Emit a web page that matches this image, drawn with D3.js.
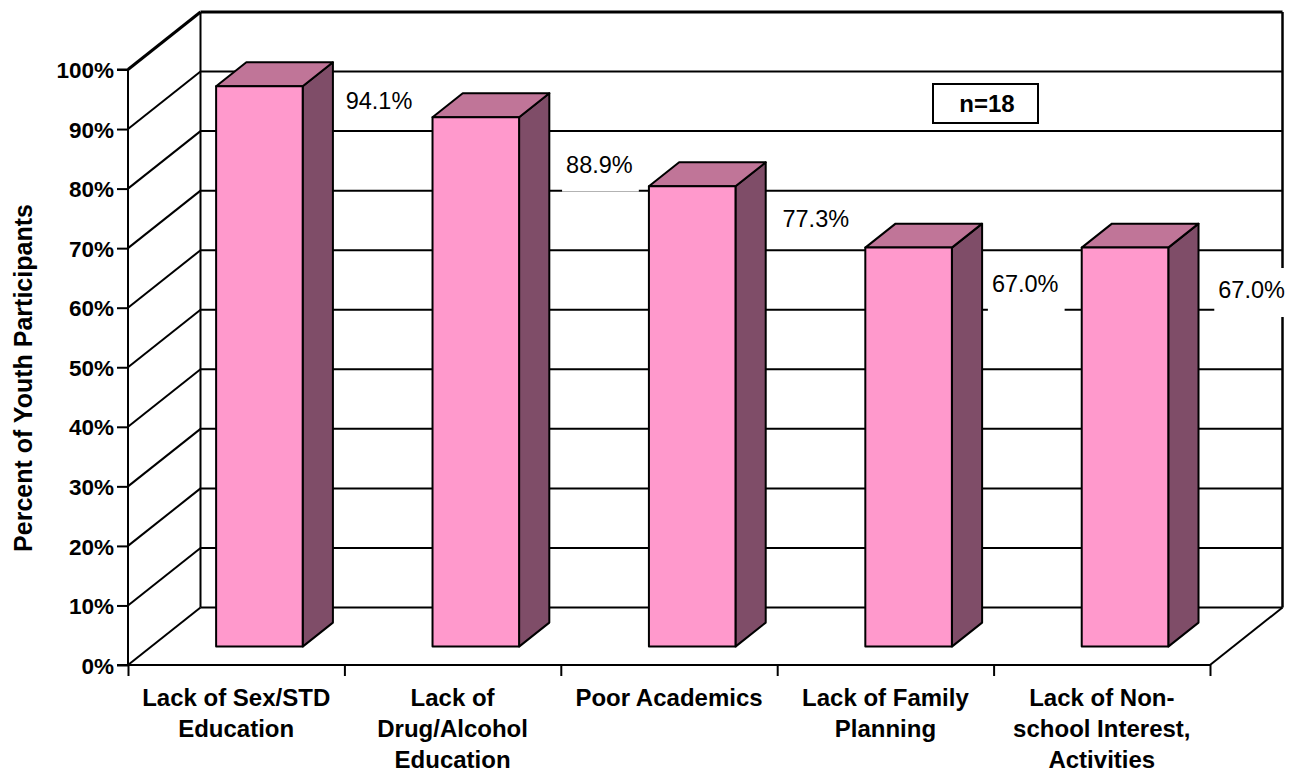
<!DOCTYPE html>
<html><head><meta charset="utf-8">
<script src="https://cdn.jsdelivr.net/npm/d3@7"></script>
<style>
body{margin:0;background:#fff;}
svg{display:block;font-family:"Liberation Sans",Arial,sans-serif;}
</style></head>
<body><svg id="c" width="1289" height="774"></svg>
<script>
// ---- data ----
const categories = [
  ["Lack of Sex/STD","Education"],
  ["Lack of","Drug/Alcohol","Education"],
  ["Poor Academics"],
  ["Lack of Family","Planning"],
  ["Lack of Non-","school Interest,","Activities"]
];
const values = [0.941, 0.889, 0.773, 0.670, 0.670];
const valueLabels = ["94.1%","88.9%","77.3%","67.0%","67.0%"];
const yTicks = [0,0.1,0.2,0.3,0.4,0.5,0.6,0.7,0.8,0.9,1.0];
const yTitle = "Percent of Youth Participants";
const noteText = "n=18";

// ---- layout ----
const svg = d3.select("#c");
const X0 = 128, X1 = 1210, Y0 = 665, Y1 = 69.5;
const DX = 72.5, DY = -57.5;       // depth vector
const D0 = 0.32, D1 = 0.737;       // bar depth range
const labelShift = [[-2,4],[2,37],[2,22],[-5,26],[5,32]];

const x = d3.scaleBand().domain(d3.range(categories.length)).range([X0, X1]).paddingInner(0).paddingOuter(0);
const y = d3.scaleLinear().domain([0,1]).range([Y0, Y1]);
const P = (px, v, d) => [px + d*DX, y(v) + d*DY];
const line = d3.line();

const g = svg.append("g");

// back wall gridlines + side wall diagonals
yTicks.forEach(t => {
  g.append("path").attr("d", line([P(X0,t,1), P(X1,t,1)]))
    .attr("stroke","#000").attr("stroke-width", t===1?3:2).attr("fill","none");
  g.append("path").attr("d", line([P(X0,t,0), P(X0,t,1)]))
    .attr("stroke","#000").attr("stroke-width", t===1?3:2).attr("fill","none");
});
// back wall verticals
g.append("path").attr("d", line([P(X0,0,1), P(X0,1,1)])).attr("stroke","#000").attr("stroke-width",2);
g.append("path").attr("d", line([P(X1,0,1), P(X1,1,1)])).attr("stroke","#000").attr("stroke-width",2.5);
// floor right edge
g.append("path").attr("d", line([P(X1,0,0), P(X1,0,1)])).attr("stroke","#000").attr("stroke-width",2);

// y axis
const yAxis = d3.axisLeft(y).tickValues(yTicks).tickFormat(d3.format(".0%")).tickSize(11).tickPadding(3);
const ya = svg.append("g").attr("transform",`translate(${X0},0)`).call(yAxis);
ya.select(".domain").attr("stroke-width",2).attr("d",`M-11,${Y1}H0V${Y0}H-11`);
ya.selectAll(".tick line").attr("stroke-width",2);
ya.selectAll(".tick text").attr("font-size",22.5).attr("font-weight","bold").attr("fill","#000")
  .attr("font-family",'"Liberation Sans",Arial,sans-serif').attr("dy","0.36em");

// x axis
const xAxis = d3.axisBottom(d3.scaleLinear().domain([0,categories.length]).range([X0,X1]))
  .tickValues(d3.range(categories.length+1)).tickFormat("").tickSize(11);
const xa = svg.append("g").attr("transform",`translate(0,${Y0})`).call(xAxis);
xa.select(".domain").attr("stroke-width",2).attr("d",`M${X0},0H${X1}`);
xa.selectAll(".tick line").attr("stroke-width",2);

// x category labels
categories.forEach((lines,i) => {
  const cx = x(i) + x.bandwidth()/2;
  const t = svg.append("text").attr("text-anchor","middle").attr("font-size",24).attr("font-weight","bold").attr("fill","#000");
  lines.forEach((s,j) => t.append("tspan").attr("x",cx).attr("y",706 + j*31).text(s));
});

// bars
const bw = x.bandwidth()*0.4;
values.forEach((v,i) => {
  const xl = x(i) + (x.bandwidth()-bw)/2, xr = xl + bw;
  const bars = svg.append("g").attr("stroke","#000").attr("stroke-width",2).attr("stroke-linejoin","round");
  bars.append("path").attr("d", line([P(xr,0,D0),P(xr,0,D1),P(xr,v,D1),P(xr,v,D0)])+"Z").attr("fill","#7F4D68");
  bars.append("path").attr("d", line([P(xl,v,D0),P(xr,v,D0),P(xr,v,D1),P(xl,v,D1)])+"Z").attr("fill","#C07598");
  const a = P(xl,v,D0), b = P(xr,0,D0);
  bars.append("rect").attr("x",a[0]).attr("y",a[1]).attr("width",b[0]-a[0]).attr("height",b[1]-a[1]).attr("fill","#FF99CC");
});

// value labels
values.forEach((v,i) => {
  const cx = x(i) + 253 + labelShift[i][0];
  const by = y(v) + labelShift[i][1];
  const lg = svg.append("g");
  const bg = lg.append("rect").attr("fill","#fff");
  const t = lg.append("text").attr("x",cx).attr("y",by).attr("text-anchor","middle")
    .attr("font-size",23.5).attr("fill","#000").text(valueLabels[i]);
  const bb = t.node().getBBox();
  bg.attr("x",bb.x-4).attr("y",by-30).attr("width",bb.width+10).attr("height",49);
});

// note box
svg.append("rect").attr("x",933).attr("y",84).attr("width",105).attr("height",39)
  .attr("fill","#fff").attr("stroke","#000").attr("stroke-width",2);
svg.append("text").attr("x",987).attr("y",112).attr("text-anchor","middle")
  .attr("font-size",24).attr("font-weight","bold").text(noteText);

// y title
svg.append("text").attr("transform","translate(32,378) rotate(-90)").attr("text-anchor","middle")
  .attr("font-size",25).attr("font-weight","bold").text(yTitle);
</script></body></html>
